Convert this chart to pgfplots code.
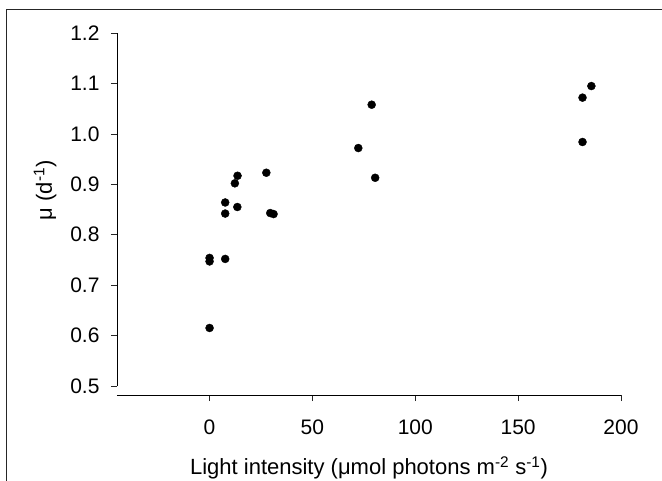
\documentclass[border=0pt]{standalone}
\usepackage{fontspec}
\setmainfont{Liberation Sans}
\usepackage{pgfplots}
\pgfplotsset{compat=1.18}
\begin{document}
\begin{tikzpicture}
\path[use as bounding box] (-117bp,-86bp) rectangle (545bp,395bp);
\draw[line width=1bp, black!85] (-110bp,-86bp) -- (-110bp,385bp) -- (545bp,385bp);
\begin{axis}[
    x=2.0571bp, y=504bp,
    xmin=-45, xmax=200,
    ymin=0.482, ymax=1.2,
    axis x line*=bottom,
    axis y line*=left,
    separate axis lines,
    y axis line style={shorten <=9bp},
    every axis line/.append style={line width=0.8bp, black!85},
    tick style={line width=0.8bp, black!85},
    tick align=outside,
    major tick length=6bp,
    xtick={0,50,100,150,200},
    ytick={0.5,0.6,0.7,0.8,0.9,1.0,1.1,1.2},
    yticklabel style={/pgf/number format/fixed, /pgf/number format/fixed zerofill, /pgf/number format/precision=1, xshift=-8bp},
    xticklabel style={yshift=-15bp},
    /pgf/number format/assume math mode=true,
    tick label style={font=\fontsize{21bp}{25bp}\selectfont},
    xlabel={Light intensity (μmol photons m\textsuperscript{-2} s\textsuperscript{-1})},
    ylabel={μ (d\textsuperscript{-1})},
    every axis x label/.style={at={(axis cs:77.5,0.482)}, anchor=center, yshift=-73bp, font=\fontsize{22bp}{26bp}\selectfont},
    every axis y label/.style={at={(axis cs:-80,0.888)}, anchor=center, rotate=90, font=\fontsize{22bp}{26bp}\selectfont},
    clip=false,
]
\addplot[only marks, mark=*, mark size=4bp, black] coordinates {
    (0, 0.615)
    (0, 0.747)
    (0, 0.754)
    (7.6, 0.752)
    (7.6, 0.842)
    (7.6, 0.864)
    (12.3, 0.902)
    (13.6, 0.917)
    (13.5, 0.855)
    (27.6, 0.923)
    (29.5, 0.843)
    (31.1, 0.841)
    (72.3, 0.972)
    (78.8, 1.058)
    (80.5, 0.913)
    (181.3, 0.984)
    (181.3, 1.072)
    (185.6, 1.095)
};
\end{axis}
\end{tikzpicture}
\end{document}
